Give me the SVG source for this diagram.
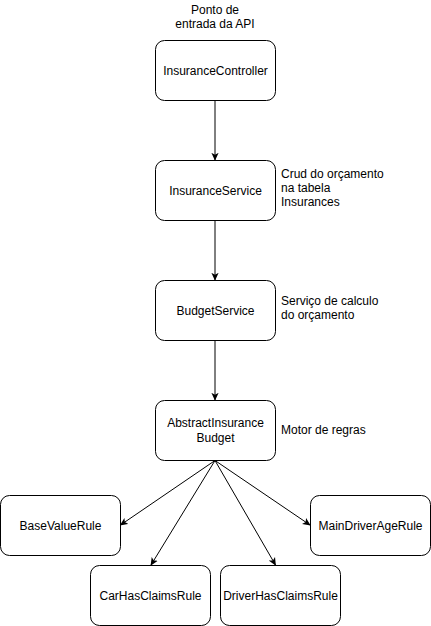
<svg xmlns="http://www.w3.org/2000/svg" width="431" height="626" viewBox="0 0 431 626">
<style>
.box{fill:#fff;stroke:#000;stroke-width:1}
.t{font-family:"Liberation Sans",Arial,sans-serif;font-size:12px;fill:#000}
.c{text-anchor:middle}
.edge{stroke:#000;stroke-width:1;fill:none;marker-end:url(#arr)}
</style>
<defs>
<marker id="arr" viewBox="0 0 10 10" refX="9" refY="5" markerWidth="8" markerHeight="8" markerUnits="userSpaceOnUse" orient="auto">
<path d="M0,0.5 L10,5 L0,9.5 L2.5,5 Z" fill="#000"/>
</marker>
</defs>
<rect width="431" height="626" fill="#fff"/>
<g id="connectors">
<line class="edge" x1="215" y1="100.5" x2="215" y2="160"/>
<line class="edge" x1="215" y1="220.5" x2="215" y2="280"/>
<line class="edge" x1="215" y1="340.5" x2="215" y2="400"/>
<line class="edge" x1="215" y1="460.5" x2="120.5" y2="525"/>
<line class="edge" x1="215" y1="460.5" x2="151" y2="565"/>
<line class="edge" x1="215" y1="460.5" x2="275.5" y2="565"/>
<line class="edge" x1="215" y1="460.5" x2="310" y2="525"/>
</g>
<g id="label-api"><text class="t c" x="215" y="14">Ponto de</text><text class="t c" x="215" y="28">entrada da API</text></g>
<g id="InsuranceController"><rect class="box" x="155.5" y="40.5" width="120" height="60" rx="9"/><text class="t c" x="215.5" y="75">InsuranceController</text></g>
<g id="InsuranceService"><rect class="box" x="155.5" y="160.5" width="120" height="60" rx="9"/><text class="t c" x="215.5" y="195">InsuranceService</text></g>
<g id="label-crud"><text class="t" x="281" y="178">Crud do orçamento</text><text class="t" x="281" y="192">na tabela</text><text class="t" x="281" y="206">Insurances</text></g>
<g id="BudgetService"><rect class="box" x="155.5" y="280.5" width="120" height="60" rx="9"/><text class="t c" x="215.5" y="315">BudgetService</text></g>
<g id="label-servico"><text class="t" x="281" y="305">Serviço de calculo</text><text class="t" x="281" y="319">do orçamento</text></g>
<g id="AbstractInsuranceBudget"><rect class="box" x="155.5" y="400.5" width="120" height="60" rx="9"/><text class="t c" x="215.5" y="427">AbstractInsurance</text><text class="t c" x="215.5" y="442">Budget</text></g>
<g id="label-motor"><text class="t" x="281" y="434">Motor de regras</text></g>
<g id="BaseValueRule"><rect class="box" x="0.5" y="495.5" width="120" height="60" rx="9"/><text class="t c" x="60.5" y="530">BaseValueRule</text></g>
<g id="MainDriverAgeRule"><rect class="box" x="310.5" y="495.5" width="120" height="60" rx="9"/><text class="t c" x="370.5" y="530">MainDriverAgeRule</text></g>
<g id="CarHasClaimsRule"><rect class="box" x="90.5" y="565.5" width="120" height="60" rx="9"/><text class="t c" x="150.5" y="600">CarHasClaimsRule</text></g>
<g id="DriverHasClaimsRule"><rect class="box" x="220.5" y="565.5" width="120" height="60" rx="9"/><text class="t c" x="280.5" y="600">DriverHasClaimsRule</text></g>
</svg>
